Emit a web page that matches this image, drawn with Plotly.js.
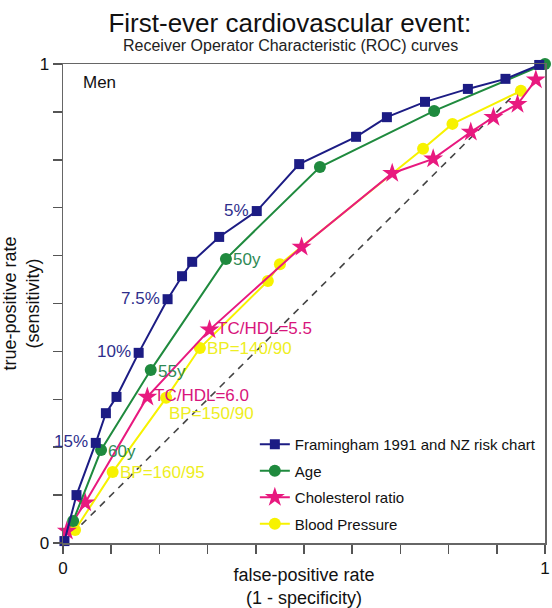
<!DOCTYPE html>
<html>
<head>
<meta charset="utf-8">
<script src="https://cdn.plot.ly/plotly-3.0.1.min.js"></script>
<style>html,body{margin:0;padding:0;background:#fff;}#chart{width:552px;height:608px;}</style>
</head>
<body>
<div id="chart"></div>
<script>
// ---- data ----
const framX = [0.003, 0.028, 0.068, 0.089, 0.111, 0.157, 0.217, 0.247, 0.268, 0.324, 0.402, 0.490, 0.608, 0.672, 0.751, 0.840, 0.918, 0.988];
const framY = [0.004, 0.100, 0.209, 0.271, 0.305, 0.397, 0.509, 0.557, 0.587, 0.639, 0.693, 0.791, 0.848, 0.889, 0.921, 0.948, 0.969, 0.998];
const ageX = [0.021, 0.079, 0.182, 0.338, 0.533, 0.770, 1.0];
const ageY = [0.046, 0.194, 0.361, 0.593, 0.785, 0.902, 1.0];
const cholX = [0.008, 0.046, 0.175, 0.304, 0.495, 0.683, 0.768, 0.846, 0.893, 0.943, 0.981];
const cholY = [0.025, 0.084, 0.305, 0.445, 0.618, 0.772, 0.802, 0.858, 0.889, 0.916, 0.967];
const bpX = [0.025, 0.103, 0.214, 0.284, 0.425, 0.450, 0.747, 0.808, 0.950];
const bpY = [0.027, 0.148, 0.303, 0.407, 0.547, 0.582, 0.823, 0.875, 0.944];
const diagX = [0, 0.94];
const diagY = [0, 0.94];

const seriesNames = ["Framingham 1991 and NZ risk chart", "Age", "Cholesterol ratio", "Blood Pressure"];

// point labels: [point index, text]
const framLabels = [[6, "7.5%"], [5, "10%"], [2, "15%"], [10, "5%"]];
const ageLabels = [[3, "50y"], [2, "55y"], [1, "60y"]];
const cholLabels = [[3, "TC/HDL=5.5"], [2, "TC/HDL=6.0"]];
const bpLabels = [[3, "BP=140/90"], [2, "BP=150/90"], [1, "BP=160/95"]];

const tickVals = [0, 0.1, 0.2, 0.3, 0.4, 0.5, 0.6, 0.7, 0.8, 0.9, 1];
const tickText = ["0", "", "", "", "", "", "", "", "", "", "1"];

const FONT = "Liberation Sans, Arial, Helvetica, sans-serif";
const cNavy = "#1c1c84", cGreen = "#1f8a3e", cPink = "#e8197f", cYellow = "#f7f200";
const tNavy = "#2e2e8c", tGreen = "#2f8a55", tPink = "#d8157c", tYellow = "#eeee22";

const traces = [
  {x: diagX, y: diagY, mode: "lines", line: {color: "#444", width: 1.6, dash: "7px,6px"}, showlegend: false, hoverinfo: "skip"},
  {x: bpX, y: bpY, name: seriesNames[3], legendgroup: "d", legendrank: 4, mode: "lines+markers", line: {color: cYellow, width: 2}, marker: {symbol: "circle", size: 12, color: cYellow}, cliponaxis: false},
  {x: cholX, y: cholY, name: seriesNames[2], legendgroup: "c", legendrank: 3, mode: "lines+markers", line: {color: cPink, width: 2}, marker: {symbol: "star", size: 15, color: cPink}, cliponaxis: false},
  {x: ageX, y: ageY, name: seriesNames[1], legendgroup: "b", legendrank: 2, mode: "lines+markers", line: {color: cGreen, width: 2}, marker: {symbol: "circle", size: 12, color: cGreen}, cliponaxis: false},
  {x: framX, y: framY, name: seriesNames[0], legendgroup: "a", legendrank: 1, mode: "lines+markers", line: {color: cNavy, width: 2}, marker: {symbol: "square", size: 10, color: cNavy}, cliponaxis: false}
];

const annotations = [];
function addLabels(list, xs, ys, color, side, dx, dy) {
  list.forEach(function (l) {
    annotations.push({
      x: xs[l[0]], y: ys[l[0]], xref: "x", yref: "y", text: l[1], showarrow: false,
      xanchor: side, yanchor: "middle", xshift: dx, yshift: dy,
      font: {family: FONT, size: 17, color: color}
    });
  });
}
addLabels(framLabels, framX, framY, tNavy, "right", -6, 1);
addLabels(ageLabels, ageX, ageY, tGreen, "left", 5, -1);
addLabels(cholLabels, cholX, cholY, tPink, "left", 5, 1);
addLabels(bpLabels, bpX, bpY, tYellow, "left", 5, 0);
// BP=150/90 sits slightly below its point
annotations[annotations.length - 2].yshift = -16;
annotations[annotations.length - 2].xshift = 1;

annotations.push({x: 0.037, y: 0.985, xref: "paper", yref: "paper", text: "Men", showarrow: false, xanchor: "left", yanchor: "top",
  font: {family: FONT, size: 17, color: "#111"}});
annotations.push({x: 0.473, y: 1, xref: "paper", yref: "paper", yshift: 19, text: "Receiver Operator Characteristic (ROC) curves", showarrow: false, xanchor: "center", yanchor: "middle",
  font: {family: FONT, size: 16, color: "#222"}});

const axisCommon = {
  range: [0, 1], tickvals: tickVals, ticktext: tickText, ticks: "outside", ticklen: 9, tickwidth: 1.5, tickcolor: "#555",
  showline: true, linecolor: "#666", linewidth: 1.5, mirror: true, showgrid: false, zeroline: false,
  tickfont: {family: FONT, size: 17, color: "#111"}, fixedrange: true
};

const layout = {
  width: 552, height: 608,
  margin: {l: 63, r: 7, t: 64, b: 65},
  paper_bgcolor: "#fff", plot_bgcolor: "#fff",
  title: {text: "First-ever cardiovascular event:", x: 0.525, xanchor: "center", y: 0.963, yanchor: "middle",
    font: {family: FONT, size: 26, color: "#111"}},
  xaxis: Object.assign({}, axisCommon, {title: {text: "false-positive rate<br>(1 - specificity)", standoff: 3,
    font: {family: FONT, size: 18, color: "#111"}}}),
  yaxis: Object.assign({}, axisCommon, {title: {text: "true-positive rate<br>(sensitivity)", standoff: 2,
    font: {family: FONT, size: 18, color: "#111"}}}),
  showlegend: true,
  legend: {x: 0.398, y: 0.24, xanchor: "left", yanchor: "top", traceorder: "grouped", tracegroupgap: 4,
    bgcolor: "rgba(255,255,255,0)", borderwidth: 0,
    font: {family: FONT, size: 15, color: "#111"}},
  annotations: annotations
};

Plotly.newPlot("chart", traces, layout, {displayModeBar: false, staticPlot: true});
</script>
</body>
</html>
